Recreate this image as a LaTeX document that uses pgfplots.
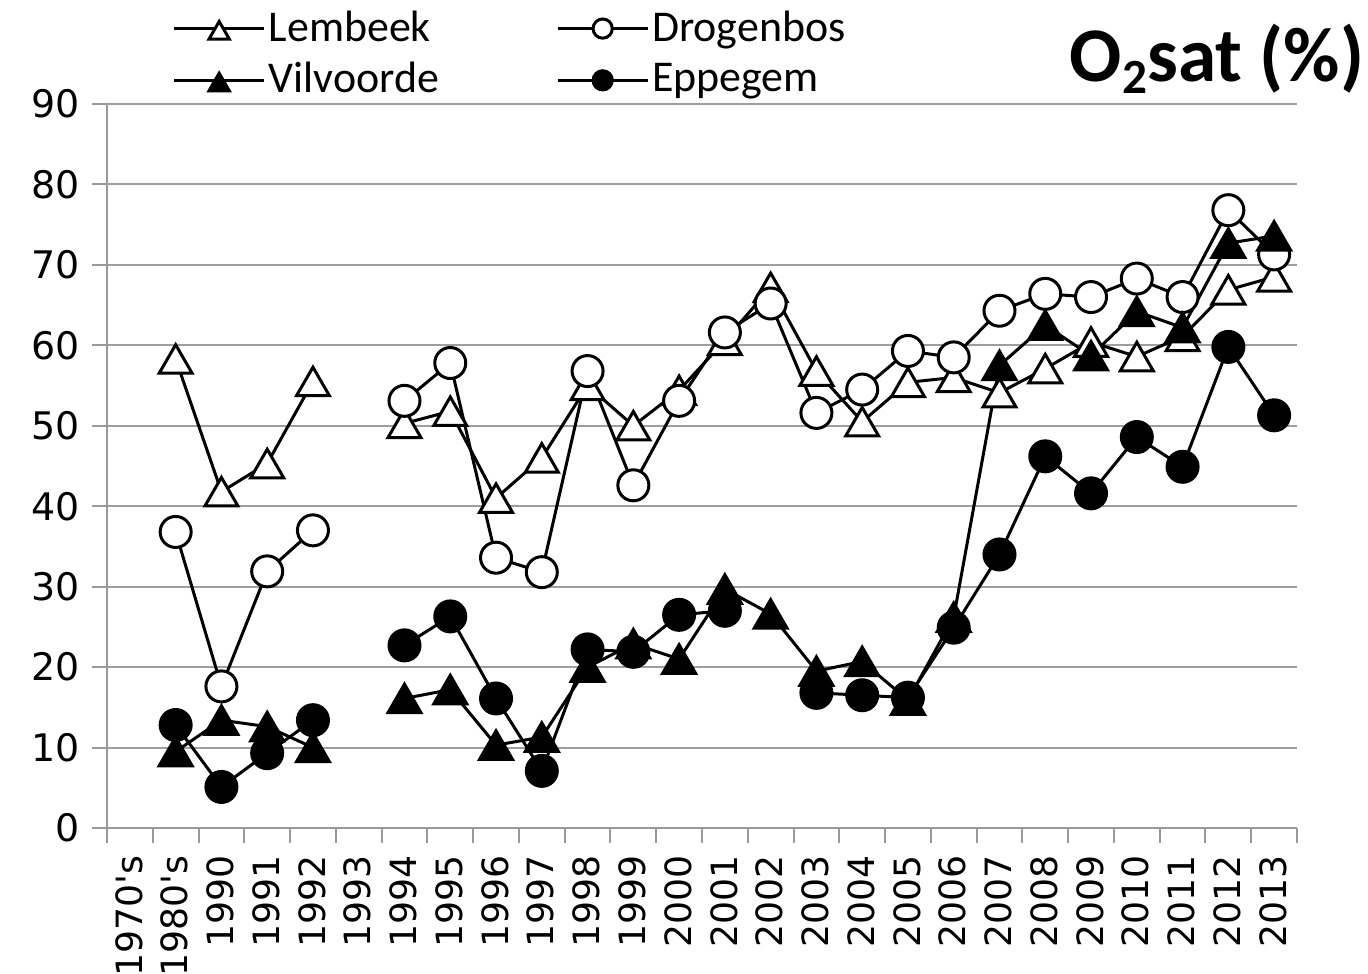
\documentclass[border=0pt]{standalone}
\usepackage{fontspec}
\setmainfont{Carlito}
\newfontfamily\tickfont{DejaVu Sans}
\usepackage{pgfplots}
\pgfplotsset{compat=1.18}
\usepackage{pgfplotstable}

\pgfplotstableread{
x  lem  dro  vil  epp
0  nan  nan  nan  nan
1  58.3 36.8 9.5  12.8
2  41.8 17.6 13.4 5.1
3  45.3 31.9 12.6 9.3
4  55.5 37.0 10.0 13.4
5  nan  nan  nan  nan
6  50.3 53.1 16.1 22.7
7  51.8 57.8 17.2 26.3
8  41.0 33.6 10.3 16.1
9  46.0 31.8 11.3 7.1
10 55.0 56.8 20.0 22.2
11 50.0 42.6 22.9 21.9
12 54.4 53.1 21.0 26.5
13 60.6 61.6 29.7 27.0
14 67.2 65.2 26.6 nan
15 56.8 51.6 19.5 16.8
16 50.5 54.5 20.7 16.5
17 55.4 59.3 15.9 16.2
18 56.0 58.5 26.2 24.9
19 54.1 64.3 57.5 34.0
20 57.1 66.4 62.5 46.2
21 60.4 66.0 58.7 41.6
22 58.6 68.3 64.2 48.6
23 61.1 66.0 62.2 44.9
24 66.9 76.8 72.7 59.8
25 68.5 71.3 73.6 51.3
}\data

\begin{document}
\begin{tikzpicture}
\begin{axis}[
  at={(0,0)}, anchor=south west,
  scale only axis, width=119mm, height=72.4mm,
  xmin=-0.5, xmax=25.5, ymin=0, ymax=90,
  axis x line*=bottom, axis y line*=left,
  axis line style={draw=black!40, line width=0.2mm, -},
  xtick={-0.5,0.5,...,25.5},
  x tick label as interval,
  xticklabels={1970\textquotesingle s,1980\textquotesingle s,1990,1991,1992,1993,1994,1995,1996,1997,1998,1999,2000,2001,2002,2003,2004,2005,2006,2007,2008,2009,2010,2011,2012,2013},
  ytick={0,10,...,90},
  ymajorgrids, grid style={draw=black!38, line width=0.2mm},
  tick align=outside, major tick length=1.5mm,
  tick style={draw=black!40, line width=0.2mm},
  yticklabel style={font=\tickfont\fontsize{10.8}{12}\selectfont},
  xticklabel style={font=\tickfont\fontsize{10.3}{12}\selectfont, rotate=90, anchor=east, yshift=0.1mm},
  /pgf/number format/assume math mode=true,
  unbounded coords=jump,
  clip=false,
  legend columns=2,
  legend cell align=left,
  legend style={draw=none, fill=none, inner sep=0pt,
    at={(0.0546,1.134)}, anchor=north west,
    font=\fontsize{12.5}{14}\selectfont,
    nodes={inner sep=0.3mm},
    /tikz/every even column/.append style={column sep=11.4mm},
    row sep=1.0mm},
  legend image code/.code={\draw[mark repeat=2,mark phase=2] plot coordinates {(0mm,0mm) (4.5mm,0mm) (9mm,0mm)};},
  legend image post style={/tikz/every mark/.append style={scale=0.62}},
  every axis plot/.append style={line width=0.3mm, black},
]
\addplot[mark=triangle*, mark size=1.9mm, mark options={fill=white, draw=black, yshift=-0.47mm}] table[x=x, y=lem] {\data};
\addlegendentry{Lembeek}
\addplot[mark=*, mark size=1.55mm, mark options={fill=white, draw=black}] table[x=x, y=dro] {\data};
\addlegendentry{Drogenbos}
\addplot[mark=triangle*, mark size=1.9mm, mark options={fill=black, draw=black, yshift=-0.47mm}] table[x=x, y=vil] {\data};
\addlegendentry{Vilvoorde}
\addplot[mark=*, mark size=1.55mm, mark options={fill=black, draw=black}] table[x=x, y=epp] {\data};
\addlegendentry{Eppegem}
\end{axis}
\node[anchor=base east, font=\bfseries\fontsize{22}{24}\selectfont, inner sep=0pt] at (125.8mm,74.6mm) {O\raisebox{-1.2mm}{\fontsize{14}{14}\selectfont 2}sat (\%)};
\pgfresetboundingbox
\path (-10.7mm,-14.6mm) rectangle (126.1mm,82.8mm);
\end{tikzpicture}
\end{document}
